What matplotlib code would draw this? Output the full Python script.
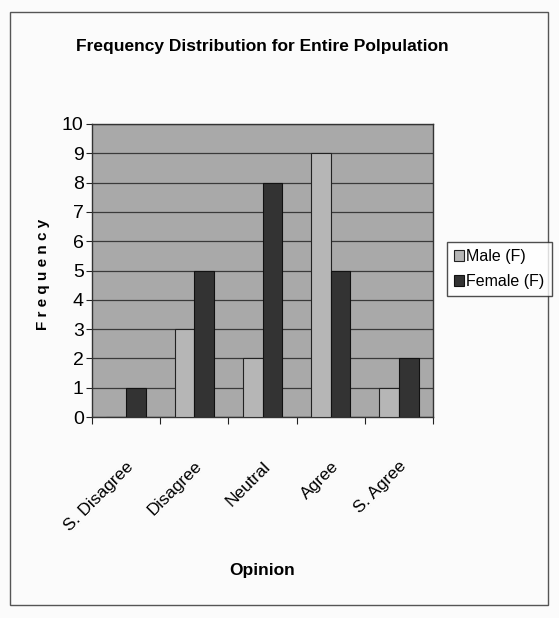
import matplotlib.pyplot as plt
import numpy as np
from matplotlib.patches import Rectangle

categories = ['S. Disagree', 'Disagree', 'Neutral', 'Agree', 'S. Agree']
male = [0, 3, 2, 9, 1]
female = [1, 5, 8, 5, 2]
yticks = list(range(0, 11))

plt.rcParams['font.family'] = ['Liberation Sans', 'DejaVu Sans']

fig = plt.figure(figsize=(5.59, 6.18), dpi=100)
fig.patch.set_facecolor('#fbfbfb')

# outer chart border
fig.patches.append(Rectangle((10 / 559, 1 - 605 / 618), 538 / 559, 593 / 618,
                             transform=fig.transFigure, fill=False,
                             ec='#555555', lw=1.0))

ax = fig.add_axes([92 / 559, 1 - 417 / 618, 341 / 559, 293 / 618])
ax.set_facecolor('#a9a9a9')

x = np.arange(len(categories))
w = 0.29
ax.bar(x - w / 2, male, w, color='#b6b6b6', edgecolor='#222222', lw=0.8,
       label='Male (F)', zorder=3)
ax.bar(x + w / 2, female, w, color='#333333', edgecolor='#111111', lw=0.8,
       label='Female (F)', zorder=3)

ax.set_xlim(-0.5, len(categories) - 0.5)
ax.set_ylim(0, 10)
ax.set_yticks(yticks)
ax.yaxis.grid(True, color='#3a3a3a', lw=0.9, zorder=1)
ax.set_axisbelow(True)

ax.set_xticks(np.arange(-0.5, len(categories), 1.0))
ax.set_xticklabels([])
ax.set_xticks(x, minor=True)
ax.set_xticklabels(categories, minor=True, rotation=45, ha='right',
                   va='top', rotation_mode='anchor', fontsize=12.5)
ax.tick_params(axis='x', which='minor', length=0, pad=30)
ax.tick_params(axis='x', which='major', length=5, color='#222222')
ax.tick_params(axis='y', length=4, labelsize=14, color='#222222', pad=2)

for s in ax.spines.values():
    s.set_color('#333333')
    s.set_linewidth(1.0)

fig.text(262 / 559, 1 - 47 / 618, 'Frequency Distribution for Entire Polpulation',
         ha='center', va='center', fontsize=12.5, fontweight='bold')
fig.text(262 / 559, 1 - 570 / 618, 'Opinion', ha='center', va='center',
         fontsize=12.5, fontweight='bold')
fig.text(43 / 559, 1 - 274 / 618, 'F r e q u e n c y', ha='center', va='center',
         rotation=90, fontsize=11, fontweight='bold')

fig.legend(loc='center left', bbox_to_anchor=(447 / 559, 1 - 269 / 618),
           frameon=True, fancybox=False, edgecolor='#222222', fontsize=11.5,
           handlelength=0.6, handleheight=0.7, handletextpad=0.15,
           borderpad=0.45, labelspacing=0.6, borderaxespad=0)

fig.savefig('out.png', dpi=100)
